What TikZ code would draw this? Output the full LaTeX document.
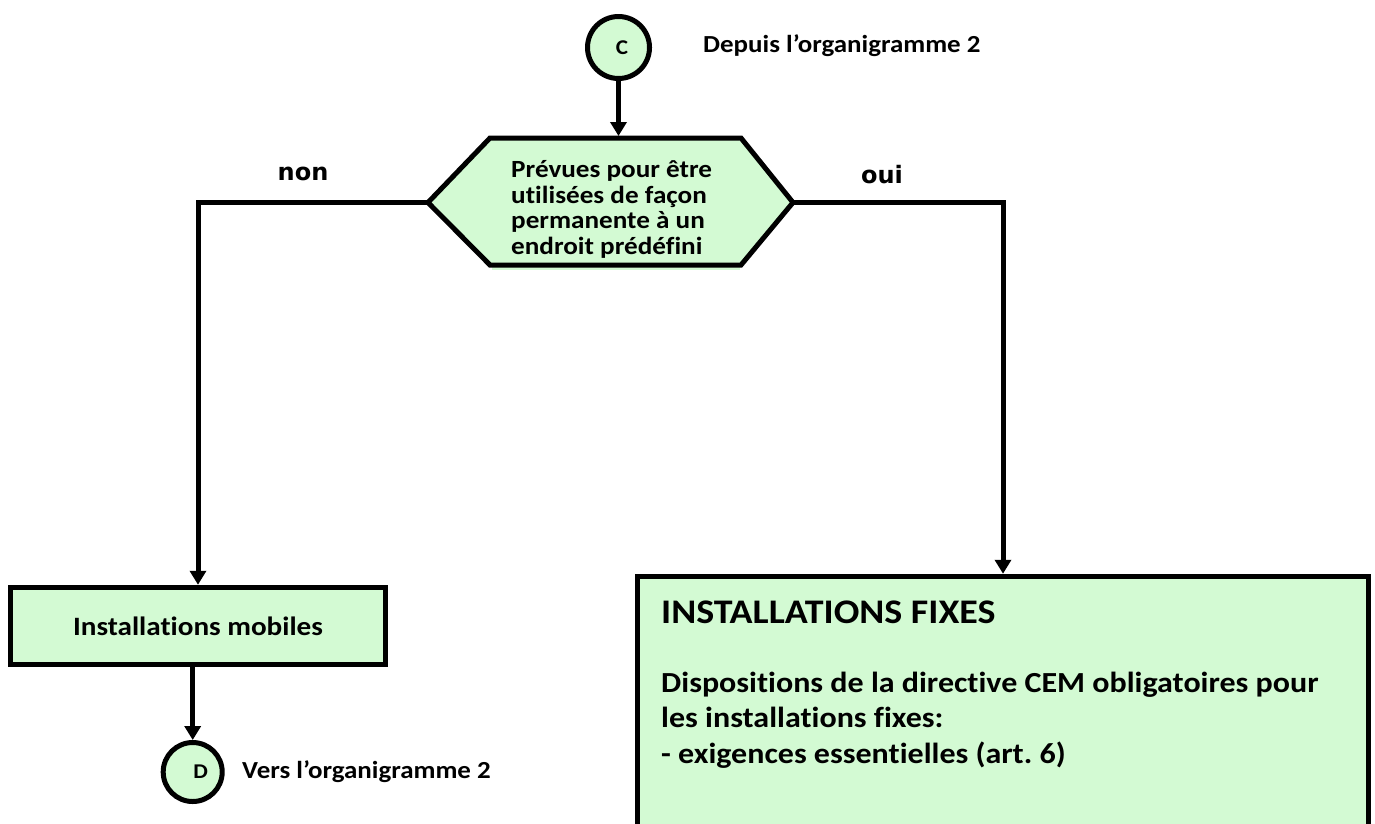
\documentclass[tikz,border=0pt]{standalone}
\usepackage{fontspec}
\setmainfont{Carlito}[FakeStretch=1.1, Ligatures=NoCommon]
\newfontfamily\labfont{DejaVu Sans}
\usetikzlibrary{arrows.meta}
\definecolor{boxgreen}{RGB}{211,250,211}
\frenchspacing
\begin{document}
\begin{tikzpicture}[x=1pt,y=-1pt,
  flow/.style={draw=black, line width=5pt, fill=boxgreen},
  conn/.style={line width=5pt, -{Triangle[width=16pt,length=14pt]}},
  circ/.style={flow, circle, inner sep=0pt, font=\bfseries\fontsize{21}{24}\selectfont},
  lbl/.style={font=\bfseries\fontsize{24.5}{30}\selectfont, inner sep=0pt, anchor=base west},
  yn/.style={font=\labfont\bfseries\fontsize{24}{28}\selectfont, inner sep=0pt, anchor=base},
  hextext/.style={font=\bfseries\fontsize{24.7}{25.7}\selectfont, align=left, inner sep=0pt, anchor=west},
  bigtitle/.style={font=\bfseries\fontsize{34.5}{40}\selectfont, inner sep=0pt, anchor=base west},
  bigtext/.style={font=\bfseries\fontsize{29.1}{36}\selectfont, inner sep=0pt, anchor=base west}]
\useasboundingbox (0,0) rectangle (1375,823);
\clip (0,0) rectangle (1375,823);

% start connector
\node[circ, minimum size=62pt] (C) at (618.5,47.5) {\hspace*{7pt}C};
\node[lbl] (dep) at (703,52) {Depuis l’organigramme 2};

% decision hexagon
\draw[boxgreen, line width=3pt] (492,268.5) -- (740,268.5);
\draw[flow, line join=miter] (428,202.5) -- (490,138) -- (741,138) -- (793,202.5) -- (741,265) -- (490,265) -- cycle;
\coordinate (hexT) at (618.5,136);
\coordinate (hexL) at (428,202.5);
\coordinate (hexR) at (793,202.5);
\node[hextext] (hex) at (511,209.5) {Prévues pour être\\utilisées de façon\\permanente à un\\endroit prédéfini};

% outcome boxes
\node[flow, minimum width=375.5pt, minimum height=77.5pt, font=\bfseries\fontsize{26.5}{32}\selectfont] (mob) at (198,626) {Installations mobiles};
\node[flow, minimum width=731.5pt, minimum height=304pt] (fix) at (1003,728.25) {};
\node[bigtitle] (fixt) at (661,623) {INSTALLATIONS FIXES};
\node[bigtext] (fix1) at (661,692) {Dispositions de la directive CEM obligatoires pour};
\node[bigtext] (fix2) at (661,727.5) {les installations fixes:};
\node[bigtext] (fix3) at (661,763) {- exigences essentielles (art. 6)};

% end connector
\node[circ, minimum size=59pt] (D) at (192.7,772) {\hspace*{16pt}D};
\node[lbl] (vers) at (242,778) {Vers l’organigramme 2};

% branch labels
\node[yn] (non) at (303,180) {non};
\node[yn] (oui) at (882,183) {oui};

% connectors
\draw[conn] (C) -- (hexT);
\draw[conn] (hexL) -| (mob.north);
\draw[conn] (hexR) -| (fix.north);
\draw[conn] (mob.south -| D.north) -- (D.north);
\end{tikzpicture}
\end{document}
